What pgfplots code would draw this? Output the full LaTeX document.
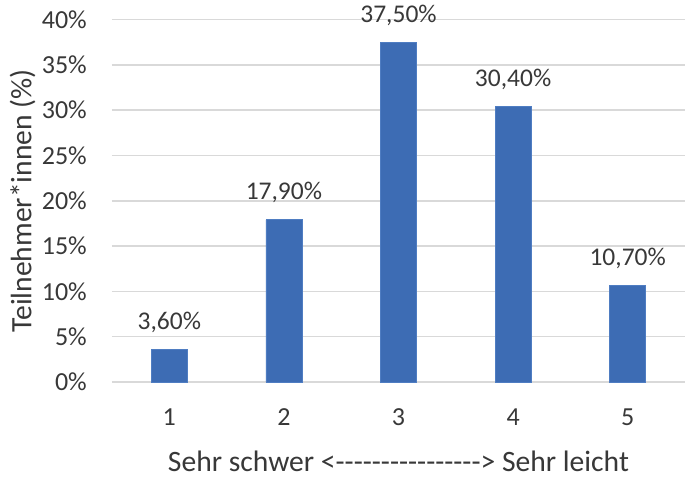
\documentclass[border=0pt]{standalone}
\usepackage{pgfplots}
\pgfplotsset{compat=1.18}
\usepackage{fontspec}
\setmainfont{Carlito}
\definecolor{barblue}{HTML}{3D6CB4}
\definecolor{baredge}{HTML}{4F7DC2}
\definecolor{txt}{HTML}{383838}
\definecolor{gridc}{HTML}{D9D9D9}
\pgfplotsset{/pgf/number format/assume math mode=true}
\begin{document}
\begin{tikzpicture}
\useasboundingbox (-112bp,-96bp) rectangle (573bp,382bp);
\begin{axis}[
  at={(0,0)}, anchor=south west,
  scale only axis,
  width=573bp, height=362.5bp,
  xmin=0.5, xmax=5.5,
  ymin=0, ymax=40,
  clip=false,
  axis line style={draw=none},
  major tick length=0pt,
  xtick={1,2,3,4,5},
  ytick={0,5,...,40},
  ymajorgrids,
  grid style={gridc, line width=1.5bp},
  yticklabel={\pgfmathprintnumber{\tick}\%},
  y tick label style={font=\fontsize{26bp}{31bp}\selectfont, text=txt, anchor=east, inner sep=0pt, xshift=-25bp},
  x tick label style={font=\fontsize{26bp}{31bp}\selectfont, text=txt, anchor=base, inner sep=0pt, yshift=-43bp},
  xlabel={Sehr schwer <-{}-{}-{}-{}-{}-{}-{}-{}-{}-{}-{}-{}-{}-{}-{}-{}> Sehr leicht},
  xlabel style={font=\fontsize{29.6bp}{35bp}\selectfont, text=txt, at={(axis description cs:0.5,0)}, anchor=base, inner sep=0pt, yshift=-89bp},
  ylabel={Teilnehmer*innen (\%)},
  ylabel style={font=\fontsize{29.6bp}{35bp}\selectfont, text=txt, at={(axis description cs:0,0.5)}, anchor=base, inner sep=0pt, yshift=80.5bp},
  ybar, bar width=36bp,
  nodes near coords={\pgfmathprintnumber[fixed,fixed zerofill,precision=2,use comma]{\pgfplotspointmeta}\%},
  nodes near coords style={font=\fontsize{25.5bp}{30bp}\selectfont, text=txt, anchor=base, inner sep=0pt, yshift=20bp},
]
\addplot[fill=barblue, draw=baredge, line width=0.6bp] coordinates {(1,3.6) (2,17.9) (3,37.5) (4,30.4) (5,10.7)};
\end{axis}
\end{tikzpicture}
\end{document}
